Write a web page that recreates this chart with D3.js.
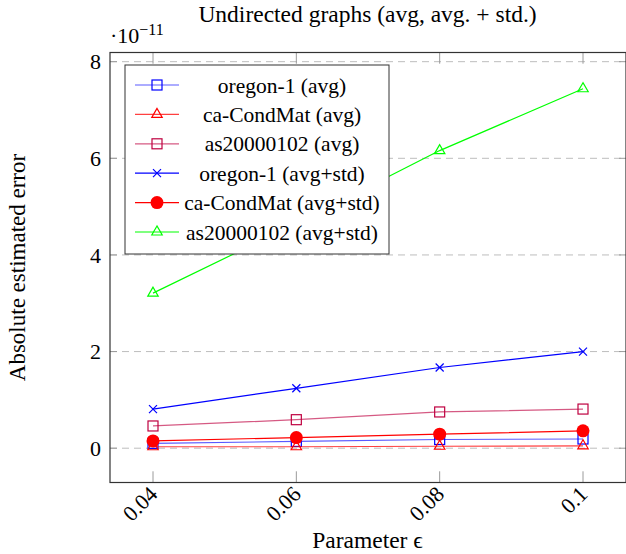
<!DOCTYPE html>
<html>
<head>
<meta charset="utf-8">
<script src="https://cdn.jsdelivr.net/npm/d3@7"></script>
<style>
  body { margin: 0; background: #fff; }
</style>
</head>
<body>
<svg id="chart"></svg>
<script>
const width = 626;
const height = 554;
const fontFamily = "Liberation Serif";

// x values (parameter epsilon) and series values in units of 1e-11
const epsilons = [0.04, 0.06, 0.08, 0.1];
const xTickLabels = ["0.04", "0.06", "0.08", "0.1"];
const yTicks = [0, 2, 4, 6, 8];

const oregonAvg = [0.10, 0.14, 0.18, 0.19];
const condMatAvg = [0.03, 0.03, 0.04, 0.05];
const asAvg = [0.46, 0.59, 0.75, 0.81];
const oregonStd = [0.81, 1.24, 1.67, 2.00];
const condMatStd = [0.15, 0.22, 0.29, 0.36];
const asStd = [3.21, 4.65, 6.16, 7.44];

const seriesNames = [
  "oregon-1 (avg)", "ca-CondMat (avg)", "as20000102 (avg)",
  "oregon-1 (avg+std)", "ca-CondMat (avg+std)", "as20000102 (avg+std)"
];
const seriesValues = [oregonAvg, condMatAvg, asAvg, oregonStd, condMatStd, asStd];
const seriesColors = ["#0000ff", "#ff0000", "#bf0040", "#0000ff", "#ff0000", "#00ff00"];
const seriesMarkers = ["square", "triangle", "square", "cross", "circle", "triangle"];
const lineOpacity = [0.65, 0.75, 0.65, 1, 1, 1];

const svg = d3.select("#chart")
    .attr("width", width)
    .attr("height", height);

const x = d3.scaleLinear().domain([0.034, 0.106]).range([110, 626]);
const y = d3.scaleLinear().domain([-0.71, 8.19]).range([482.5, 52.5]);

const [plotLeft, plotRight] = x.range();
const [plotBottom, plotTop] = y.range();

// grid
svg.append("g").selectAll("line")
    .data(yTicks)
    .enter().append("line")
    .attr("x1", plotLeft).attr("x2", plotRight)
    .attr("y1", d => y(d)).attr("y2", d => y(d))
    .attr("stroke", "#bdbdbd")
    .attr("stroke-width", 1)
    .attr("stroke-dasharray", "7,5");

// ticks (inside, both sides)
const tickLen = 7;
const tickG = svg.append("g").attr("stroke", "#9a9a9a").attr("stroke-width", 1);
yTicks.forEach(t => {
  tickG.append("line").attr("x1", plotLeft).attr("x2", plotLeft + tickLen).attr("y1", y(t)).attr("y2", y(t));
  tickG.append("line").attr("x1", plotRight - tickLen).attr("x2", plotRight).attr("y1", y(t)).attr("y2", y(t));
});
epsilons.forEach(t => {
  tickG.append("line").attr("x1", x(t)).attr("x2", x(t)).attr("y1", plotBottom).attr("y2", plotBottom - tickLen * 1.6);
  tickG.append("line").attr("x1", x(t)).attr("x2", x(t)).attr("y1", plotTop).attr("y2", plotTop + tickLen * 1.6);
});

// frame
svg.append("rect")
    .attr("x", plotLeft).attr("y", plotTop)
    .attr("width", plotRight - plotLeft).attr("height", plotBottom - plotTop)
    .attr("fill", "none")
    .attr("stroke", "#333")
    .attr("stroke-width", 1.2);

// markers
function drawMarker(g, type, color, cx, cy) {
  if (type === "square") {
    g.append("rect").attr("x", cx - 5).attr("y", cy - 5).attr("width", 10).attr("height", 10)
      .attr("fill", "none").attr("stroke", color).attr("stroke-width", 1.2);
  } else if (type === "triangle") {
    const r = 6;
    const pts = [[cx, cy - r], [cx - r * 0.87, cy + r * 0.5], [cx + r * 0.87, cy + r * 0.5]];
    g.append("polygon").attr("points", pts.map(p => p.join(",")).join(" "))
      .attr("fill", "none").attr("stroke", color).attr("stroke-width", 1.2);
  } else if (type === "circle") {
    g.append("circle").attr("cx", cx).attr("cy", cy).attr("r", 6.5).attr("fill", color);
  } else if (type === "cross") {
    const s = 4;
    g.append("path").attr("d", `M${cx - s},${cy - s}L${cx + s},${cy + s}M${cx - s},${cy + s}L${cx + s},${cy - s}`)
      .attr("stroke", color).attr("stroke-width", 1.2).attr("fill", "none");
  }
}

const line = d3.line().x(d => x(d[0])).y(d => y(d[1]));

const plotG = svg.append("g");
seriesValues.forEach((vals, i) => {
  const pts = epsilons.map((e, j) => [e, vals[j]]);
  const g = plotG.append("g");
  g.append("path")
    .attr("d", line(pts))
    .attr("fill", "none")
    .attr("stroke", seriesColors[i])
    .attr("stroke-opacity", lineOpacity[i])
    .attr("stroke-width", 1.2);
  pts.forEach(p => drawMarker(g, seriesMarkers[i], seriesColors[i], x(p[0]), y(p[1])));
});

function label(sel, size) {
  return sel.attr("font-family", fontFamily).attr("font-size", size).attr("fill", "#000");
}

// y tick labels
svg.append("g").selectAll("text")
    .data(yTicks)
    .enter().append("text")
    .call(label, 22)
    .attr("x", plotLeft - 9)
    .attr("y", d => y(d))
    .attr("dy", "0.35em")
    .attr("text-anchor", "end")
    .text(d => d);

// x tick labels, rotated
svg.append("g").selectAll("text")
    .data(epsilons)
    .enter().append("text")
    .call(label, 22)
    .attr("transform", d => `translate(${x(d) - 5},${plotBottom + 2}) rotate(-45)`)
    .attr("text-anchor", "end")
    .attr("dy", "0.7em")
    .text((d, i) => xTickLabels[i]);

// scale factor
const sf = svg.append("text").call(label, 22).attr("x", plotLeft).attr("y", 43);
sf.append("tspan").text("·10");
sf.append("tspan").attr("dy", -8).attr("font-size", 16).text("−11");

// title
svg.append("text").call(label, 23.5)
    .attr("x", (plotLeft + 625) / 2)
    .attr("y", 22)
    .attr("text-anchor", "middle")
    .text("Undirected graphs (avg, avg. + std.)");

// axis labels
svg.append("text").call(label, 23.5)
    .attr("x", (plotLeft + 625) / 2)
    .attr("y", 548)
    .attr("text-anchor", "middle")
    .text("Parameter ϵ");

svg.append("text").call(label, 23)
    .attr("transform", `translate(25,${(plotTop + plotBottom) / 2}) rotate(-90)`)
    .attr("text-anchor", "middle")
    .text("Absolute estimated error");

// legend
const legend = svg.append("g").attr("transform", "translate(125,65)");
legend.append("rect")
    .attr("width", 264).attr("height", 189)
    .attr("fill", "#fff")
    .attr("stroke", "#333")
    .attr("stroke-width", 1);

seriesNames.forEach((name, i) => {
  const cy = 20 + i * 29.4;
  const g = legend.append("g");
  g.append("line")
    .attr("x1", 10).attr("x2", 54)
    .attr("y1", cy).attr("y2", cy)
    .attr("stroke", seriesColors[i])
    .attr("stroke-opacity", lineOpacity[i])
    .attr("stroke-width", 1.2);
  drawMarker(g, seriesMarkers[i], seriesColors[i], 32, cy);
  g.append("text").call(label, 21.5)
    .attr("x", 157)
    .attr("y", cy)
    .attr("dy", "0.35em")
    .attr("text-anchor", "middle")
    .text(name);
});
</script>
</body>
</html>
